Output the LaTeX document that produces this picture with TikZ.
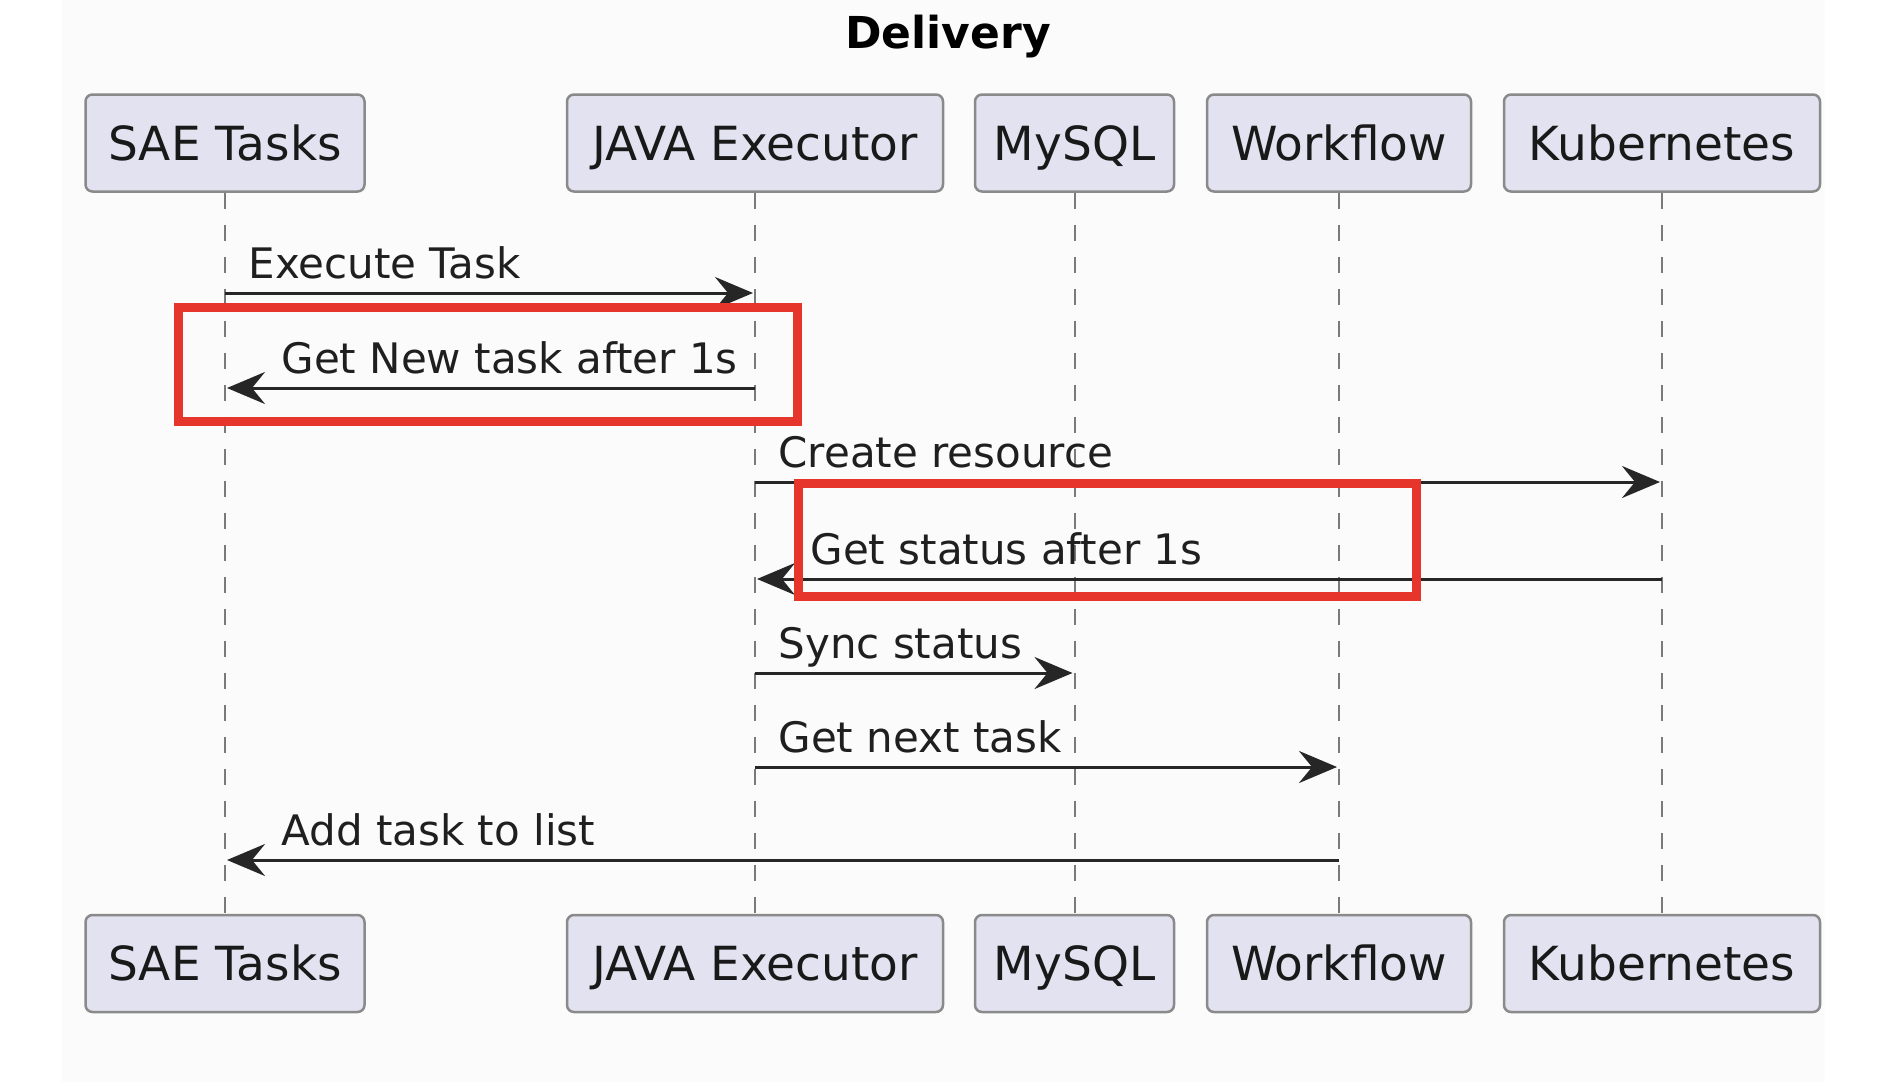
\documentclass[tikz,border=0pt]{standalone}
\usepackage{fontspec}
\setmainfont{DejaVu Sans}
\usetikzlibrary{arrows.meta}
\definecolor{partfill}{HTML}{E2E2F0}
\definecolor{partdraw}{HTML}{8A8A8A}
\definecolor{lifecol}{HTML}{7A7A7A}
\definecolor{msgcol}{HTML}{262626}
\definecolor{redmark}{HTML}{E6352B}
\definecolor{bgcol}{HTML}{FBFBFB}
\tikzset{
  part/.style={draw=partdraw, fill=partfill, line width=2.5pt, rounded corners=7pt,
    minimum height=97pt, inner sep=0pt, text height=34pt, text depth=0pt,
    font=\fontsize{47pt}{56pt}\selectfont, text=black!90},
  life/.style={draw=lifecol, line width=2pt, dash pattern=on 16pt off 16pt},
  msg/.style={draw=msgcol, line width=3pt, -{Stealth[length=38pt,width=32pt,inset=13pt]}, shorten >=2pt},
  lbl/.style={font=\fontsize{42pt}{50pt}\selectfont, text=black!88, inner sep=0pt},
  redbox/.style={draw=redmark, line width=9pt},
}
\begin{document}
\begin{tikzpicture}[x=1pt,y=-1pt]
\useasboundingbox (0,0) rectangle (1882,1082);
\fill[bgcol] (62,0) rectangle (1825,1082);
\node[anchor=base, font=\fontsize{44pt}{52pt}\selectfont\bfseries, inner sep=0pt] (title) at (948,48) {Delivery};
% participants top
\node[part, minimum width=279pt] (saeT) at (225,143) {SAE Tasks};
\node[part, minimum width=376pt] (javaT) at (755,143) {JAVA Executor};
\node[part, minimum width=199pt] (sqlT) at (1074.5,143) {MySQL};
\node[part, minimum width=264pt] (wfT) at (1339,143) {Workflow};
\node[part, minimum width=316pt] (k8T) at (1662,143) {Kubernetes};
% participants bottom
\node[part, minimum width=279pt] (saeB) at (225,963.5) {SAE Tasks};
\node[part, minimum width=376pt] (javaB) at (755,963.5) {JAVA Executor};
\node[part, minimum width=199pt] (sqlB) at (1074.5,963.5) {MySQL};
\node[part, minimum width=264pt] (wfB) at (1339,963.5) {Workflow};
\node[part, minimum width=316pt] (k8B) at (1662,963.5) {Kubernetes};
% lifelines
\draw[life] (saeT.south) -- (saeB.north);
\draw[life] (javaT.south) -- (javaB.north);
\draw[life] (sqlT.south) -- (sqlB.north);
\draw[life] (wfT.south) -- (wfB.north);
\draw[life] (k8T.south) -- (k8B.north);
% messages
\draw[msg] (saeT |- 0,293) -- node[lbl, pos=0, anchor=base west, xshift=22pt, yshift=15pt] {Execute Task} (javaT |- 0,293);
\draw[msg] (javaT |- 0,388) -- node[lbl, pos=1, anchor=base west, xshift=55pt, yshift=15pt] {Get New task after 1s} (saeT |- 0,388);
\draw[msg] (javaT |- 0,482) -- node[lbl, pos=0, anchor=base west, xshift=22pt, yshift=15pt] {Create resource} (k8T |- 0,482);
\draw[msg] (k8T |- 0,579) -- node[lbl, pos=1, anchor=base west, xshift=54pt, yshift=15pt] {Get status after 1s} (javaT |- 0,579);
\draw[msg] (javaT |- 0,673) -- node[lbl, pos=0, anchor=base west, xshift=22pt, yshift=15pt] {Sync status} (sqlT |- 0,673);
\draw[msg] (javaT |- 0,767) -- node[lbl, pos=0, anchor=base west, xshift=22pt, yshift=15pt] {Get next task} (wfT |- 0,767);
\draw[msg] (wfT |- 0,860) -- node[lbl, pos=1, anchor=base west, xshift=55pt, yshift=15pt] {Add task to list} (saeT |- 0,860);
% red highlight boxes
\draw[redbox] (178.5,307) rectangle (797.5,421);
\draw[redbox] (798,483) rectangle (1416,596);
\end{tikzpicture}
\end{document}
